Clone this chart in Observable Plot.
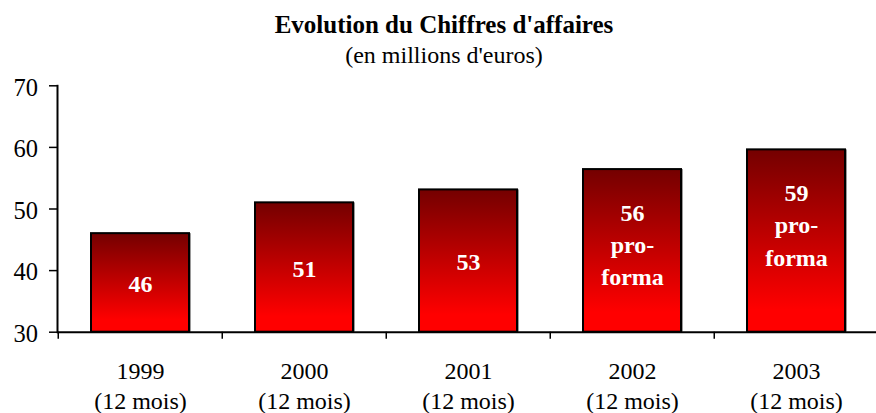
<!DOCTYPE html>
<html>
<head>
<meta charset="utf-8">
<script src="https://cdn.jsdelivr.net/npm/d3@7"></script>
<script src="https://cdn.jsdelivr.net/npm/@observablehq/plot@0.6"></script>
<style>
  body { margin: 0; background: white; width: 876px; }
  .hdr { font-family: 'Liberation Serif', 'Times New Roman', serif; font-size: 24px; text-align: center; padding-left: 12px; line-height: 30px; height: 30px; color: #000; }
  #title { font-weight: bold; font-size: 25px; padding-top: 10px; }
  #chart svg { display: block; }
</style>
</head>
<body>
<svg width="0" height="0" style="position:absolute">
  <defs>
    <linearGradient id="barGrad" x1="0" y1="0" x2="0" y2="1">
      <stop offset="0" stop-color="#740000"/>
      <stop offset="0.88" stop-color="#ff0000"/>
      <stop offset="1" stop-color="#ff0000"/>
    </linearGradient>
  </defs>
</svg>
<div id="title" class="hdr">Evolution du Chiffres d'affaires</div>
<div id="subtitle" class="hdr">(en millions d'euros)</div>
<div id="chart"></div>
<script>
const categories = ["1999", "2000", "2001", "2002", "2003"];
const periods = ["(12 mois)", "(12 mois)", "(12 mois)", "(12 mois)", "(12 mois)"];
const values = [46, 51, 53.1, 56.4, 59.6];
const barLabels = ["46", "51", "53", "56\npro-\nforma", "59\npro-\nforma"];
const proForma = [false, false, false, true, true];
const yTicks = [30, 40, 50, 60, 70];

const data = categories.map((c, i) => ({
  year: c, period: periods[i], value: values[i], label: barLabels[i], pro: proForma[i]
}));

const xRange = [57, 879.5];
const step = (xRange[1] - xRange[0]) / categories.length;

const chart = Plot.plot({
  width: 876,
  height: 343,
  marginTop: 15.3,
  marginBottom: 81.3,
  marginLeft: 57,
  marginRight: 0,
  style: {
    fontFamily: "'Liberation Serif', 'Times New Roman', serif",
    fontSize: "24px",
    color: "#000",
    background: "white",
    overflow: "visible"
  },
  x: { domain: categories, range: xRange, paddingInner: 0.4, paddingOuter: 0.2, axis: null, label: null },
  y: { domain: [30, 70], axis: null, label: null },
  marks: [
    Plot.barY(data, { x: "year", y1: 30, y2: "value", fill: "#9a9a9a", dx: 2 }),
    Plot.barY(data, { x: "year", y1: 30, y2: "value", fill: "url(#barGrad)", stroke: "#000", strokeWidth: 2 }),
    Plot.frame({ anchor: "left", strokeWidth: 2 }),
    Plot.ruleY([30], { strokeWidth: 2 }),
    Plot.axisY({ ticks: yTicks, tickSize: 8, tickFormat: () => "", strokeWidth: 1.5, label: null }),
    Plot.axisY({ ticks: yTicks, tickSize: 0, tickPadding: 19.5, dy: 2, fontSize: 24.5, label: null }),
    Plot.axisX({ ticks: categories, tickSize: 7, tickFormat: () => "", dx: -step / 2, strokeWidth: 1.5, label: null }),
    Plot.text(data, {
      x: "year", text: d => d.year + "\n" + d.period,
      frameAnchor: "bottom", lineAnchor: "top", dy: 25.3, lineHeight: 1.25, fontSize: 24
    }),
    Plot.text(data.filter(d => !d.pro), {
      x: "year", y: d => (30 + d.value) / 2, text: "label",
      fill: "white", fontWeight: "bold", fontSize: 24, dy: 1.5
    }),
    Plot.text(data.filter(d => d.pro), {
      x: "year", y: "value", text: "label", lineAnchor: "top", dy: 28, lineHeight: 1.35,
      fill: "white", fontWeight: "bold", fontSize: 24
    })
  ]
});
document.getElementById("chart").appendChild(chart);
</script>
</body>
</html>
